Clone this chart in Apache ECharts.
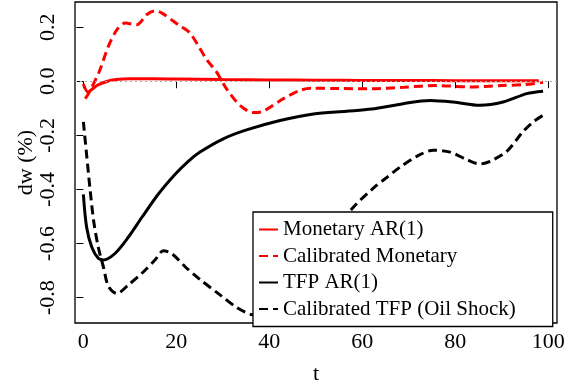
<!DOCTYPE html>
<html>
<head>
<meta charset="utf-8">
<script src="https://cdn.jsdelivr.net/npm/echarts@6/dist/echarts.min.js"></script>
<style>
  html, body { margin: 0; padding: 0; background: #fff; }
  #main { width: 575px; height: 390px; }
</style>
</head>
<body>
<div id="main"></div>
<script>
// tick positions
const xTicks = [0, 20, 40, 60, 80, 100];
const yTicks = [-0.8, -0.6, -0.4, -0.2, 0.0, 0.2];

// Monetary AR(1)
const tMonAR = [0, 1, 2, 3, 5, 7, 10, 15, 20, 30, 40, 50, 60, 70, 80, 90, 98];
const vMonAR = [-0.01, -0.04, -0.028, -0.015, -0.001, 0.006, 0.009, 0.009, 0.008, 0.006, 0.005, 0.004, 0.003, 0.003, 0.002, 0.002, 0.002];

// Calibrated Monetary
const tMonCal = [0.4, 1.2, 3.4, 5.4, 7.2, 9.0, 11.5, 13.6, 15.4, 16.9, 20.4, 22.9, 26.5, 28.7, 30.8, 33.7, 36.6, 38.7, 43, 46.6, 49, 55, 62, 69, 76, 83, 90, 95, 98.9];
const vMonCal = [-0.064, -0.043, 0.035, 0.13, 0.19, 0.215, 0.209, 0.246, 0.26, 0.252, 0.209, 0.179, 0.081, 0.033, -0.028, -0.089, -0.116, -0.111, -0.065, -0.034, -0.026, -0.027, -0.028, -0.022, -0.016, -0.021, -0.016, -0.012, -0.004];

// TFP AR(1)
const tTfpAR = [0, 0.7, 1.8, 3.2, 4.3, 6.8, 9.7, 12.6, 16.1, 19.7, 22.5, 25.1, 30.1, 35.1, 42.3, 49.5, 56.6, 62, 68.8, 74.6, 79.6, 85.3, 90.3, 95.4, 98.9];
const vTfpAR = [-0.418, -0.54, -0.613, -0.655, -0.661, -0.637, -0.576, -0.503, -0.418, -0.345, -0.297, -0.262, -0.213, -0.18, -0.145, -0.121, -0.111, -0.103, -0.083, -0.071, -0.077, -0.089, -0.077, -0.046, -0.037];

// Calibrated TFP (Oil Shock)
const tTfpCal = [0, 0.7, 1.4, 2.2, 3.2, 4.3, 5.4, 7.2, 9.7, 12.6, 15.4, 17.2, 19, 21.9, 25.1, 29.4, 33, 36, 39, 44, 50, 54, 57.7, 62.4, 65.2, 68.1, 71.7, 75.3, 78.9, 82.5, 85.3, 87.5, 91.1, 94.6, 96.8, 98.9];
const vTfpCal = [-0.15, -0.272, -0.393, -0.515, -0.613, -0.686, -0.759, -0.785, -0.753, -0.71, -0.661, -0.627, -0.637, -0.686, -0.733, -0.79, -0.837, -0.862, -0.872, -0.8, -0.66, -0.56, -0.473, -0.395, -0.357, -0.318, -0.278, -0.255, -0.262, -0.29, -0.306, -0.296, -0.259, -0.186, -0.15, -0.126];

const FONT = '"Liberation Serif", "DejaVu Serif", serif';
const pairs = (ts, vs) => ts.map((t, i) => [t, vs[i]]);

const chart = echarts.init(document.getElementById('main'));

function line(name, ts, vs, color, dashed) {
  return {
    name: name,
    type: 'line',
    data: pairs(ts, vs),
    smooth: 0.3,
    symbol: 'none',
    z: 3,
    lineStyle: { color: color, width: 3, type: dashed ? [9, 5] : 'solid' },
    itemStyle: { color: color }
  };
}

const option = {
  backgroundColor: '#fff',
  animation: false,
  grid: {
    left: 75, right: 18, top: 2, bottom: 63,
    show: true, borderColor: '#000', borderWidth: 1.3
  },
  legend: {
    orient: 'vertical',
    left: 253, top: 212,
    backgroundColor: '#fff',
    borderColor: '#000', borderWidth: 1.3, borderRadius: 0,
    padding: [7, 37, 7, 5],
    itemWidth: 19, itemHeight: 14, itemGap: 5.5,
    itemStyle: { opacity: 0 },
    textStyle: { fontFamily: FONT, fontSize: 21, color: '#000' },
    data: ['Monetary AR(1)', 'Calibrated Monetary', 'TFP AR(1)', 'Calibrated TFP (Oil Shock)']
  },
  xAxis: {
    type: 'value',
    min: -1.8, max: 101.9,
    name: 't', nameLocation: 'middle', nameGap: 40, nameMoveOverlap: false,
    nameTextStyle: { fontFamily: FONT, fontSize: 22, color: '#000' },
    axisLine: { show: false },
    splitLine: { show: false },
    axisTick: { show: true, length: 7, lineStyle: { color: '#000', width: 1 }, customValues: xTicks },
    axisLabel: { fontFamily: FONT, fontSize: 22, color: '#000', margin: 8, customValues: xTicks }
  },
  yAxis: {
    type: 'value',
    min: -0.894, max: 0.293,
    name: 'dw (%)', nameLocation: 'middle', nameGap: 38, nameRotate: 90, nameMoveOverlap: false,
    nameTextStyle: { fontFamily: FONT, fontSize: 22, color: '#000' },
    axisLine: { show: false },
    splitLine: { show: false },
    axisTick: { show: true, length: 7, lineStyle: { color: '#000', width: 1 }, customValues: yTicks },
    axisLabel: {
      fontFamily: FONT, fontSize: 22, color: '#000', rotate: 90, margin: 16,
      customValues: yTicks,
      formatter: v => v.toFixed(1)
    }
  },
  series: [
    {
      type: 'line', data: [], silent: true, z: 1,
      markLine: {
        silent: true, symbol: 'none', label: { show: false },
        lineStyle: { color: '#aaa', type: [2, 3], width: 1 },
        data: [{ yAxis: 0 }]
      }
    },
    line('Monetary AR(1)', tMonAR, vMonAR, '#ff0000', false),
    line('Calibrated Monetary', tMonCal, vMonCal, '#ff0000', true),
    line('TFP AR(1)', tTfpAR, vTfpAR, '#000000', false),
    line('Calibrated TFP (Oil Shock)', tTfpCal, vTfpCal, '#000000', true)
  ]
};

chart.setOption(option);
</script>
</body>
</html>
